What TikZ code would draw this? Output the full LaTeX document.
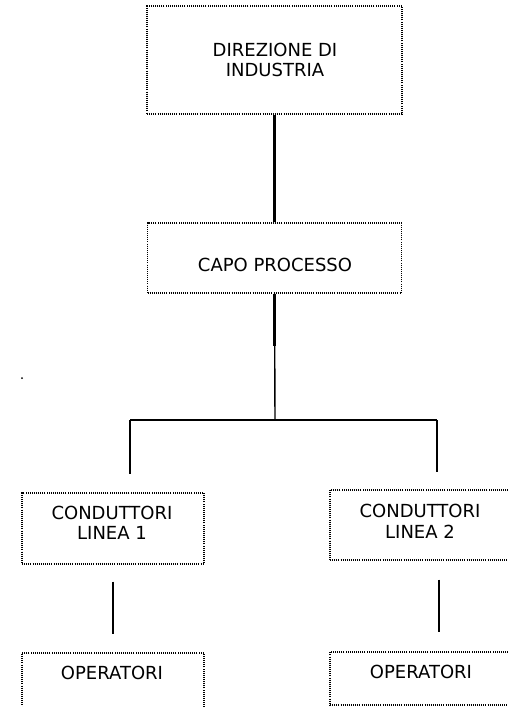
\documentclass[tikz,border=0pt]{standalone}
\usepackage{fontspec}
\setmainfont{DejaVu Sans}
\begin{document}
\begin{tikzpicture}[x=1pt,y=-1pt,
  box/.style={draw=black, line width=1.1pt, dash pattern=on 1pt off 1.1pt, inner sep=0pt},
  caption/.style={font=\fontsize{18}{20.5}\selectfont, align=center, text=black},
  link/.style={line width=1.4pt},
  heavy/.style={line width=2.6pt}]
\useasboundingbox (0,0) rectangle (507,707);
\fill[white] (0,0) rectangle (507,707);

% boxes of the organisation chart
\node[box, minimum width=255pt, minimum height=108pt] (dir) at (274.5,60) {};
\node[caption] (dirtext) at (275,60) {DIREZIONE DI\\INDUSTRIA};

\node[box, minimum width=254pt, minimum height=70pt] (capo) at (274.5,258) {};
\node[caption] (capotext) at (275,265) {CAPO PROCESSO};

\node[box, minimum width=182pt, minimum height=71pt] (c1) at (113,528.5) {};
\node[caption] (c1text) at (112,523) {CONDUTTORI\\LINEA 1};

\node[box, minimum width=218pt, minimum height=70pt] (c2) at (439,525) {};
\node[caption] (c2text) at (420,521.5) {CONDUTTORI\\LINEA 2};

\node[box, minimum width=182pt, minimum height=55pt] (o1) at (113,680.5) {};
\node[caption] (o1text) at (112,673) {OPERATORI};

\node[box, minimum width=218pt, minimum height=53pt] (o2) at (439,678.5) {};
\node[caption] (o2text) at (421,672) {OPERATORI};

% connectors
\coordinate (fork) at (275,420);
\coordinate (forkL) at (130,420);
\coordinate (forkR) at (437,420);

\draw[heavy] (dir.south) -- (capo.north);
\draw[link] (capo.south) -- (fork);
\draw[heavy] (capo.south) -- ++(0,52);
\draw[link] (forkL) -- (forkR);
\draw[link, shorten >=18pt] (forkL) -- (forkL |- c1.north);
\draw[link, shorten >=17pt] (forkR) -- (forkR |- c2.north);
\draw[link, shorten <=17pt, shorten >=18pt] (c1.south) -- (o1.north);
\draw[link, shorten <=19pt, shorten >=19pt] (c2.south) -- (o2.north);

% stray mark
\fill (22,378) circle (1pt);
\end{tikzpicture}
\end{document}
